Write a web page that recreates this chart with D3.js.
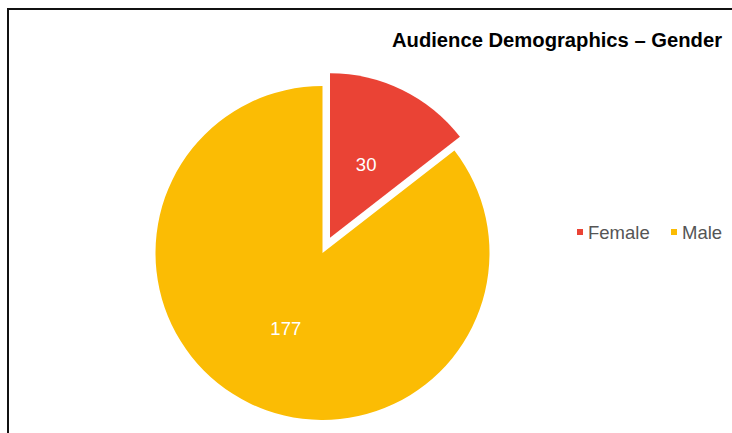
<!DOCTYPE html>
<html>
<head>
<meta charset="utf-8">
<script src="https://cdn.jsdelivr.net/npm/d3@7"></script>
<style>
  html, body { margin: 0; padding: 0; background: #fff; }
  svg { display: block; }
</style>
</head>
<body>
<svg id="chart" width="732" height="433"></svg>
<script>
// Audience split by gender
const categories = ["Female", "Male"];
const values = [30, 177];
const colors = ["#EA4335", "#FBBC04"];
const title = "Audience Demographics \u2013 Gender";

const svg = d3.select("#chart");
const W = 732, H = 433;
const font = "Liberation Sans, Arial, sans-serif";

// frame around the chart area
svg.append("rect")
  .attr("x", 8).attr("y", 9)
  .attr("width", W + 20).attr("height", H + 20)
  .attr("fill", "#fff")
  .attr("stroke", "#111")
  .attr("stroke-width", 2);

// title
svg.append("text")
  .attr("x", 392).attr("y", 47)
  .attr("textLength", 330)
  .attr("lengthAdjust", "spacingAndGlyphs")
  .attr("font-family", font)
  .attr("font-weight", "bold")
  .attr("font-size", 19.5)
  .attr("fill", "#000")
  .text(title);

// pie, with the first slice pulled out
const cx = 322.5, cy = 253;
const radii = [164.5, 167];
const explode = 17;
const pie = d3.pie().sort(null).value(d => d)(values);

const g = svg.append("g").attr("transform", `translate(${cx},${cy})`);

const slices = g.selectAll("g.slice")
  .data(pie)
  .join("g")
  .attr("class", "slice")
  .attr("transform", (d, i) => {
    if (i !== 0) return null;
    const a = (d.startAngle + d.endAngle) / 2;
    return `translate(${Math.sin(a) * explode},${-Math.cos(a) * explode})`;
  });

slices.append("path")
  .attr("d", (d, i) => d3.arc().innerRadius(0).outerRadius(radii[i])(d))
  .attr("fill", (d, i) => colors[i]);

slices.append("text")
  .attr("transform", (d, i) => {
    const lr = radii[i] * 0.5;
    return `translate(${d3.arc().innerRadius(lr).outerRadius(lr).centroid(d)})`;
  })
  .attr("text-anchor", "middle")
  .attr("dy", "0.36em")
  .attr("font-family", font)
  .attr("font-size", 18.5)
  .attr("fill", "#fff")
  .text(d => d.data);

// legend
const legendX = [577, 671];
const lg = svg.append("g");
categories.forEach((c, i) => {
  lg.append("rect")
    .attr("x", legendX[i]).attr("y", 229)
    .attr("width", 6).attr("height", 6)
    .attr("fill", colors[i]);
  lg.append("text")
    .attr("x", legendX[i] + 11).attr("y", 232.5)
    .attr("dy", "0.36em")
    .attr("font-family", font)
    .attr("font-size", 18.5)
    .attr("fill", "#555")
    .text(c);
});
</script>
</body>
</html>
